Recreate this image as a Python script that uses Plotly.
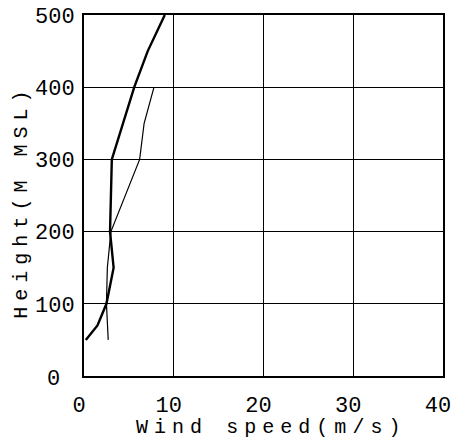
import plotly.graph_objects as go

# Data
thick_speed = [0.2, 1.5, 2.5, 3.3, 2.9, 3.1, 5.6, 7.1, 9.0]
thick_height = [50, 70, 100, 150, 200, 300, 400, 450, 500]

thin_speed = [2.7, 2.5, 2.6, 3.0, 6.2, 6.7, 7.8]
thin_height = [50, 100, 150, 200, 300, 350, 400]

x_ticks = [0, 10, 20, 30, 40]
y_ticks = [100, 200, 300, 400, 500]

x_title = "Wind speed(m/s)"
y_title = "Height(M MSL)"

FONT = "Liberation Mono, Courier New, monospace"


def spaced(s, gap=10):
    sp = '<span style="font-size:%dpx"> </span>' % gap
    return sp.join(s)


fig = go.Figure()
fig.add_trace(go.Scatter(x=thin_speed, y=thin_height, mode="lines",
                         line=dict(color="black", width=1.2), showlegend=False))
fig.add_trace(go.Scatter(x=thick_speed, y=thick_height, mode="lines",
                         line=dict(color="black", width=2.4), showlegend=False))

fig.add_annotation(x=0, y=0, xref="paper", yref="y", text="0", showarrow=False,
                   xanchor="right", yanchor="middle", xshift=-22, yshift=-3,
                   font=dict(family=FONT, size=22, color="black"))
fig.add_annotation(x=0.513, y=-0.144, xref="paper", yref="paper", text=spaced(x_title),
                   showarrow=False, xanchor="center", yanchor="middle",
                   font=dict(family=FONT, size=20, color="black"))
fig.add_annotation(x=-0.173, y=0.474, xref="paper", yref="paper", text=spaced(y_title),
                   showarrow=False, xanchor="center", yanchor="middle", textangle=-90,
                   font=dict(family=FONT, size=20, color="black"))

fig.update_layout(
    width=454, height=442,
    margin=dict(l=84, r=11, t=15, b=66),
    paper_bgcolor="white", plot_bgcolor="white",
    font=dict(family=FONT, color="black"),
    xaxis=dict(range=[0, 40], tickvals=x_ticks, ticktext=[str(v) for v in x_ticks],
               showgrid=True, gridcolor="black", gridwidth=1.2,
               showline=True, linecolor="black", linewidth=1.8, mirror=True,
               ticks="", zeroline=False, ticklabelstandoff=8, ticklabelshift=-5,
               automargin=False, ticklabeloverflow="allow",
               tickfont=dict(family=FONT, size=22, color="black")),
    yaxis=dict(range=[0, 500], tickvals=y_ticks, ticktext=[str(v) for v in y_ticks],
               showgrid=True, gridcolor="black", gridwidth=1.2,
               showline=True, linecolor="black", linewidth=1.8, mirror=True,
               ticks="", zeroline=False, ticklabelstandoff=3, automargin=False,
               ticklabeloverflow="allow",
               tickfont=dict(family=FONT, size=22, color="black")),
)

fig.write_html("out.html", config={"displayModeBar": False},
               post_script="document.body.style.margin='0';document.body.style.overflow='hidden';")
